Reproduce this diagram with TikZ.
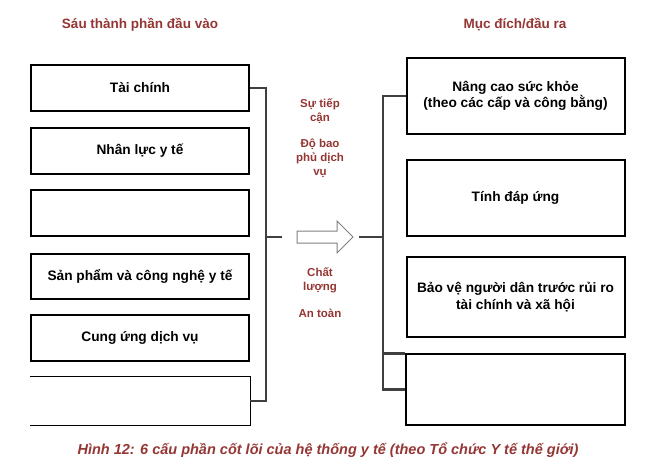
\documentclass[tikz,border=0pt]{standalone}
\usepackage{fontspec}
\setmainfont{Liberation Sans}
\definecolor{dred}{HTML}{943634}
\definecolor{brk}{HTML}{404040}
\begin{document}
\begin{tikzpicture}[x=1pt,y=-1pt,
  box/.style={draw=black, line width=2pt, fill=white, minimum width=218pt, inner sep=2pt, align=center,
    font=\bfseries\fontsize{13.7}{16.5}\selectfont},
  openbox/.style={minimum width=220pt, minimum height=48pt, inner sep=0pt},
  thinline/.style={draw=black, line width=1.2pt},
  lbracket/.style={draw=brk, line width=2.8pt},
  rbracket/.style={draw=brk, line width=2.2pt},
  lbl/.style={text=dred, align=center, font=\bfseries\fontsize{11.5}{14}\selectfont},
  title/.style={text=dred, font=\bfseries\fontsize{13.5}{16}\selectfont},
  caption/.style={text=dred, font=\bfseries\itshape\fontsize{14.5}{17}\selectfont},
  blockarrow/.style={draw=gray, fill=white, line width=1pt, line join=miter}]
\useasboundingbox (0,0) rectangle (658,475);

% titles
\node[title] (tl) at (140,25) {Sáu thành phần đầu vào};
\node[title] (tr) at (515,25) {Mục đích/đầu ra};

% left boxes
\node[box, minimum height=46pt] (b1) at (140,88) {Tài chính};
\node[box, minimum height=46pt] (b2) at (140,151) {Nhân lực y tế};
\node[box, minimum height=46pt] (b3) at (140,213) {};
\node[box, minimum height=45pt] (b4) at (140,276.5) {Sản phẩm và công nghệ y tế};
\node[box, minimum height=46pt] (b5) at (140,338) {Cung ứng dịch vụ};
\node[openbox] (b6) at (140,401) {};
\draw[thinline] (b6.north west) -- (b6.north east) -- (b6.south east) -- (b6.south west);

% left bracket
\coordinate (lv) at (266,237);
\coordinate (lt) at (282,237);
\draw[lbracket] (b1.east) -| (lv) |- (b6.east);
\draw[lbracket] (lv) -- (lt);

% block arrow
\draw[blockarrow] (297,231) -- (337,231) -- (337,221) -- (353,237) -- (337,253) -- (337,243) -- (297,243) -- cycle;

% middle labels
\node[lbl] (m1) at (320,111) {Sự tiếp\\cận};
\node[lbl] (m2) at (320,158) {Độ bao\\phủ dịch\\vụ};
\node[lbl] (m3) at (320,280) {Chất\\lượng};
\node[lbl] (m4) at (320,313) {An toàn};

% right boxes
\node[box, minimum height=76pt] (r1) at (515.5,96) {Nâng cao sức khỏe\\(theo các cấp và công bằng)};
\node[box, minimum height=76pt] (r2) at (515.5,198) {Tính đáp ứng};
\node[box, minimum height=80pt] (r3) at (515.5,297) {Bảo vệ người dân trước rủi ro\\tài chính và xã hội};
\node[draw=black, line width=1.2pt, minimum width=219pt, minimum height=71pt, inner sep=0pt] (r4) at (515.5,389.5) {};

% right bracket
\coordinate (rs) at (359,237);
\coordinate (rv) at (383,237);
\draw[rbracket] (rs) -- (rv);
\draw[rbracket] (r1.west) -| (rv) |- (r4.west);
\draw[rbracket] (rv) |- (r4.north west);

% caption
\node[caption] (cap) at (328,450) {Hình 12: 6 cấu phần cốt lõi của hệ thống y tế (theo Tổ chức Y tế thế giới)};
\end{tikzpicture}
\end{document}
